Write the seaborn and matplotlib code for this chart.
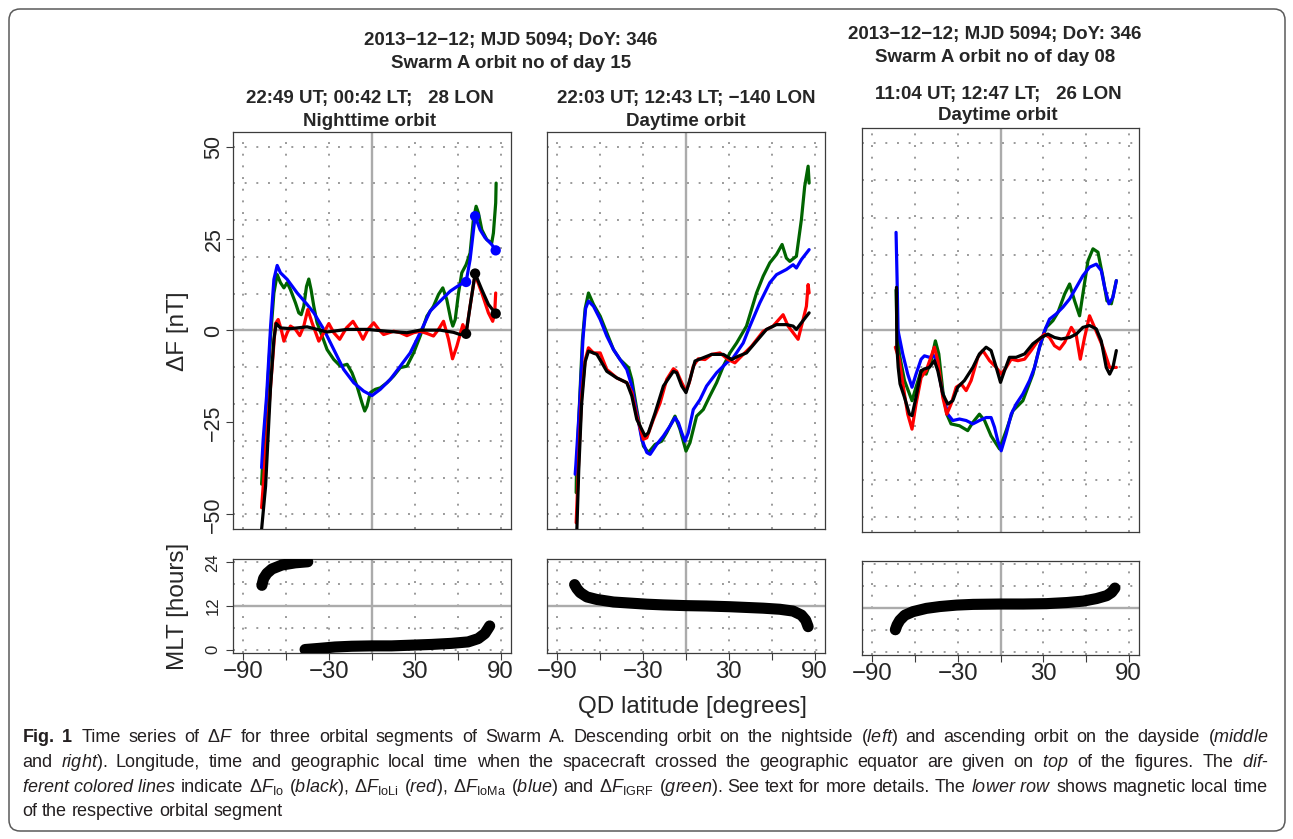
import pandas as pd
import matplotlib
matplotlib.use("Agg")
import matplotlib.pyplot as plt
import seaborn as sns
from matplotlib import font_manager
from matplotlib.patches import FancyBboxPatch
from matplotlib.transforms import IdentityTransform

# ------------------------------------------------------------------
# values: (QD latitude [deg], delta F [nT])
# ------------------------------------------------------------------
# nighttime orbit, 22:49 UT
night_igrf = [(-77.2, -41.8), (-76.1, -33.2), (-73.7, -19.7), (-70.9, -1.5), (-68.6, 10.2), (-66.3, 15.2),
              (-64.0, 13.0), (-61.6, 11.6), (-59.3, 13.0), (-57.0, 11.1), (-53.5, 7.5), (-51.2, 4.8),
              (-49.5, 4.3), (-47.7, 6.6), (-45.8, 12.0), (-44.2, 14.0), (-42.6, 11.1), (-40.7, 6.6),
              (-38.4, 2.1), (-34.9, -1.5), (-31.4, -5.2), (-26.7, -7.9), (-22.1, -9.7), (-17.4, -9.2),
              (-14.0, -11.5), (-10.5, -15.1), (-7.0, -19.7), (-5.1, -21.9), (-3.5, -20.6), (-1.2, -16.9),
              (2.3, -16.0), (5.8, -15.6), (10.5, -14.2), (15.1, -12.4), (19.8, -10.1), (24.4, -9.7),
              (29.1, -6.1), (33.7, -1.5), (38.4, 3.9), (43.0, 6.6), (46.5, 9.8), (49.5, 11.6),
              (52.3, 8.4), (55.1, 3.0), (56.5, 1.2), (58.2, 3.0), (60.5, 10.2), (62.8, 15.7),
              (65.8, 17.9), (68.6, 21.1), (70.9, 30.2), (72.8, 33.8), (74.4, 32.0), (76.8, 27.4),
              (80.3, 24.7), (83.7, 23.8), (84.9, 26.5), (86.5, 34.7), (86.8, 40.1)]
night_ioma = [(-77.2, -37.3), (-76.1, -29.6), (-73.7, -17.8), (-70.9, 1.2), (-68.6, 13.9), (-66.3, 17.7),
              (-64.0, 15.7), (-59.3, 13.9), (-52.3, 10.2), (-45.4, 7.1), (-40.7, 4.8), (-33.7, 0.3),
              (-26.7, -5.2), (-19.8, -10.6), (-12.8, -14.2), (-5.8, -16.5), (0.0, -17.7), (5.8, -16.0),
              (12.8, -13.3), (19.8, -9.7), (26.7, -6.1), (33.7, -0.6), (40.7, 5.3), (47.7, 8.0),
              (54.7, 10.7), (61.6, 12.5), (65.8, 13.2), (68.6, 19.3), (72.1, 31.1), (75.6, 27.4),
              (79.1, 25.2), (83.7, 23.4), (86.5, 21.8)]
night_ioli = [(-77.2, -48.2), (-74.4, -33.2), (-70.9, -15.1), (-67.5, 1.9), (-65.6, 3.0), (-63.5, 0.3),
              (-61.6, -2.9), (-59.3, -0.6), (-57.0, 1.2), (-53.5, 0.3), (-50.5, -1.4), (-47.7, 1.2),
              (-44.9, 5.7), (-41.9, 2.1), (-37.2, -2.9), (-33.7, -0.6), (-30.2, 1.9), (-26.7, -0.6),
              (-22.6, -2.4), (-17.9, 0.7), (-13.3, 2.5), (-9.8, 0.3), (-6.3, -2.4), (-2.8, 0.3),
              (1.2, 2.1), (4.7, 0.3), (8.1, -1.1), (15.1, -0.2), (19.8, -0.6), (24.4, -1.4),
              (29.1, -0.6), (33.7, -0.2), (38.4, -0.8), (43.0, -1.5), (46.5, 0.3), (50.0, 2.5),
              (53.5, -2.4), (56.3, -7.7), (59.3, -4.3), (63.5, 1.6), (65.8, -0.6), (68.6, 6.6),
              (72.1, 15.2), (76.8, 10.2), (81.4, 4.8), (84.4, 2.5), (85.8, 4.8), (86.5, 10.2)]
night_io = [(-77.2, -54.1), (-74.4, -42.3), (-70.9, -15.1), (-68.6, -2.4), (-67.0, 1.9), (-64.0, 0.7),
            (-57.0, 0.5), (-45.4, 1.0), (-31.4, -0.4), (-17.4, 0.3), (-3.5, 0.3), (10.5, -0.2),
            (24.4, -0.6), (33.7, 0.1), (47.7, 0.1), (57.0, -0.5), (61.6, -1.1), (65.8, -0.9),
            (68.6, 6.6), (72.1, 15.5), (76.8, 11.1), (81.4, 7.1), (86.5, 4.6)]
night_io_marks = [(65.8, -0.9), (72.1, 15.5), (86.5, 4.6)]
night_ioma_marks = [(65.8, 13.2), (72.1, 31.1), (86.5, 21.8)]

# daytime orbit, 22:03 UT
day1_igrf = [(-76.8, -44.1), (-76.6, -38.7), (-74.5, -20.0), (-72.5, -3.0), (-70.5, 6.0), (-68.2, 10.2),
             (-64.7, 7.1), (-60.0, 3.9), (-55.4, -0.6), (-50.7, -5.2), (-46.1, -7.9), (-40.2, -10.1),
             (-37.9, -13.3), (-34.4, -21.5), (-29.8, -31.4), (-26.3, -33.2), (-21.6, -31.0), (-17.0, -30.1),
             (-13.5, -27.8), (-7.7, -23.3), (-4.2, -26.9), (0.0, -32.8), (2.8, -30.5), (7.4, -23.3),
             (12.1, -21.5), (16.7, -17.8), (21.4, -14.2), (26.1, -9.7), (30.7, -6.1), (35.4, -3.4),
             (42.3, 1.2), (49.3, 10.2), (54.0, 14.8), (58.6, 18.4), (63.3, 20.7), (67.2, 23.4),
             (70.2, 19.7), (72.6, 18.8), (77.2, 20.2), (80.7, 30.2), (83.0, 39.2), (85.4, 44.7),
             (86.1, 40.1)]
day1_ioma = [(-77.5, -39.1), (-77.0, -36.4), (-74.4, -20.0), (-72.0, -2.0), (-70.2, 6.0), (-68.2, 8.0),
             (-64.7, 6.6), (-60.0, 3.0), (-55.4, -1.5), (-50.7, -5.2), (-46.1, -7.9), (-41.4, -10.6),
             (-37.9, -15.1), (-34.4, -22.4), (-30.9, -29.6), (-27.4, -33.2), (-25.1, -33.7), (-20.5, -31.0),
             (-15.8, -28.7), (-11.2, -26.0), (-7.7, -23.7), (-5.3, -25.1), (-3.0, -27.8), (-0.7, -30.1),
             (1.6, -27.8), (5.1, -21.5), (9.8, -18.8), (14.4, -15.1), (21.4, -11.5), (28.4, -8.8),
             (33.0, -7.4), (40.0, -3.4), (44.7, 1.2), (51.6, 7.5), (58.6, 13.0), (63.3, 15.2),
             (70.2, 16.6), (74.9, 17.9), (77.2, 17.0), (80.7, 19.3), (86.1, 22.0)]
day1_ioli = [(-76.8, -52.3), (-75.0, -35.0), (-73.0, -18.0), (-70.5, -8.0), (-68.2, -4.7), (-64.7, -6.1),
             (-60.0, -6.1), (-55.4, -10.6), (-48.4, -12.9), (-41.4, -14.2), (-37.9, -16.9), (-34.4, -23.3),
             (-29.8, -29.6), (-27.4, -29.2), (-22.8, -24.2), (-18.1, -19.7), (-13.5, -13.3), (-8.8, -10.4),
             (-6.5, -11.1), (-3.0, -14.2), (0.0, -16.5), (2.3, -14.2), (5.1, -9.7), (8.6, -7.7),
             (13.3, -7.9), (17.9, -6.5), (23.7, -6.1), (29.5, -7.9), (34.2, -8.8), (40.0, -6.5),
             (45.8, -4.3), (54.0, -0.2), (60.9, 1.2), (67.9, 4.3), (71.4, 1.2), (74.9, -0.6),
             (78.4, -2.4), (81.9, 3.0), (84.2, 6.6), (85.4, 12.5), (86.1, 10.2)]
day1_io = [(-76.3, -54.0), (-75.0, -38.0), (-73.0, -20.0), (-70.5, -8.5), (-68.2, -5.6), (-62.3, -6.5),
           (-55.4, -11.1), (-48.4, -12.9), (-41.4, -14.2), (-37.9, -17.8), (-34.4, -24.2), (-28.6, -28.7),
           (-26.3, -27.8), (-21.6, -22.4), (-15.8, -15.1), (-8.8, -11.1), (-6.5, -11.5), (-3.0, -15.1),
           (0.0, -16.9), (2.8, -13.3), (6.3, -8.3), (12.1, -7.4), (17.9, -6.5), (26.1, -6.5),
           (31.9, -7.9), (36.5, -7.0), (42.3, -6.1), (49.3, -2.9), (56.3, 0.3), (63.3, 1.6),
           (70.2, 1.6), (74.9, 1.2), (77.2, 0.3), (80.7, 2.1), (86.1, 4.8)]

# daytime orbit, 11:04 UT
day2_igrf = [(-73.3, 10.7), (-72.8, 2.0), (-71.0, -6.4), (-67.4, -13.5), (-62.1, -18.9), (-59.3, -15.3),
             (-55.7, -10.9), (-52.2, -11.8), (-48.7, -8.2), (-45.7, -2.9), (-43.3, -6.4), (-40.5, -16.2),
             (-37.7, -22.5), (-34.7, -25.1), (-28.8, -25.6), (-23.0, -26.9), (-19.4, -24.7), (-14.8, -22.5),
             (-11.2, -24.2), (-6.6, -28.3), (-0.7, -31.8), (4.0, -26.9), (8.7, -21.6), (15.7, -18.9),
             (22.7, -11.8), (27.4, -4.6), (32.1, 0.7), (36.8, 2.5), (40.3, 4.7), (45.0, 9.6),
             (48.5, 12.3), (52.0, 7.8), (55.5, 3.8), (57.8, 9.6), (61.4, 18.5), (64.9, 21.7),
             (68.4, 20.8), (71.9, 14.1), (74.7, 7.8), (77.8, 7.0), (81.3, 13.2)]
day2_ioma = [(-73.3, 26.1), (-72.6, 14.0), (-71.9, 0.0), (-71.4, -1.1), (-68.6, -6.4), (-65.1, -11.8),
             (-62.1, -15.3), (-59.3, -11.8), (-55.7, -7.8), (-53.4, -6.9), (-49.9, -7.3), (-46.4, -6.9),
             (-44.0, -10.0), (-40.5, -17.1), (-37.0, -22.5), (-33.5, -24.2), (-28.8, -23.8), (-24.1, -24.2),
             (-19.4, -25.1), (-14.8, -24.2), (-10.1, -23.4), (-6.6, -23.4), (-4.2, -26.0), (-1.9, -29.6),
             (0.5, -32.3), (4.0, -27.8), (7.5, -22.5), (11.0, -19.8), (15.7, -17.1), (20.4, -13.5),
             (23.9, -10.0), (27.4, -4.6), (30.9, -0.2), (34.4, 2.9), (39.1, 4.3), (43.8, 6.1),
             (48.5, 8.3), (53.2, 11.4), (57.8, 14.5), (62.5, 16.8), (67.2, 17.6), (70.7, 15.9),
             (73.1, 11.4), (76.1, 7.0), (78.9, 8.7), (81.3, 13.2)]
day2_ioli = [(-73.8, -4.6), (-71.0, -8.0), (-67.4, -17.1), (-65.1, -22.5), (-62.1, -26.5), (-59.3, -19.8),
             (-55.7, -12.7), (-52.2, -10.9), (-46.4, -4.6), (-44.0, -8.2), (-40.5, -18.0), (-37.7, -22.5),
             (-34.7, -19.8), (-31.1, -15.3), (-27.6, -14.4), (-24.1, -16.2), (-20.6, -13.5), (-15.9, -7.3),
             (-12.4, -5.5), (-7.7, -8.2), (-3.0, -10.0), (0.5, -11.8), (4.0, -10.0), (7.5, -7.8),
             (12.2, -8.2), (16.9, -7.8), (21.5, -5.5), (26.2, -2.9), (30.9, -1.1), (34.4, -2.0),
             (37.9, -4.2), (41.5, -5.1), (45.0, -3.3), (49.7, 0.7), (53.2, -1.5), (56.0, -7.8),
             (59.0, -2.0), (62.5, 3.8), (66.0, 0.7), (71.9, -4.6), (76.6, -10.0), (81.3, -10.0)]
day2_io = [(-73.0, 11.4), (-72.8, -4.0), (-71.8, -10.0), (-70.5, -14.4), (-67.4, -18.0), (-63.9, -22.5),
           (-62.1, -22.9), (-59.3, -18.0), (-55.7, -10.9), (-53.4, -10.4), (-49.9, -10.0), (-46.4, -8.2),
           (-44.0, -10.9), (-40.5, -17.1), (-37.0, -19.8), (-33.5, -18.9), (-30.0, -15.3), (-25.3, -13.5),
           (-19.4, -10.0), (-14.8, -6.4), (-10.1, -4.6), (-6.6, -5.5), (-3.0, -10.0), (0.0, -14.0),
           (2.8, -10.9), (6.3, -7.3), (11.0, -7.3), (16.9, -6.4), (22.7, -3.7), (28.6, -2.0),
           (33.3, -1.1), (37.9, -2.0), (42.6, -2.4), (48.5, -2.0), (53.2, -1.1), (57.8, 0.7),
           (62.5, 1.2), (67.2, 0.3), (70.7, -2.9), (74.2, -10.0), (76.6, -11.8), (78.9, -10.0),
           (81.3, -5.5)]

# magnetic local time along each segment: (QD latitude, MLT hours); night wraps 24 -> 0
night_mlt_a = [(-77.0, 17.7), (-75.8, 19.6), (-73.5, 21.0), (-70.0, 22.2), (-63.0, 23.3), (-53.7, 23.9),
               (-44.9, 24.2)]
night_mlt_b = [(-46.8, 0.0), (-37.4, 0.3), (-25.8, 0.7), (-14.2, 0.9), (-0.2, 1.0), (13.7, 1.0),
               (27.7, 1.2), (41.6, 1.4), (55.6, 1.7), (67.2, 2.1), (74.2, 3.0), (78.9, 4.4),
               (81.2, 5.8), (82.3, 6.5)]
day1_mlt = [(-77.9, 17.9), (-76.3, 16.8), (-74.0, 15.7), (-69.3, 14.5), (-62.3, 13.8), (-50.7, 13.1),
            (-39.1, 12.8), (-27.4, 12.5), (-15.8, 12.3), (0.0, 12.1), (14.4, 12.0), (30.7, 11.8),
            (42.3, 11.6), (54.0, 11.4), (65.6, 11.1), (74.9, 10.6), (80.7, 9.5), (83.7, 8.1), (85.4, 6.3)]
day2_mlt = [(-73.8, 6.0), (-72.6, 7.3), (-70.7, 8.6), (-67.2, 10.0), (-61.4, 11.0), (-52.0, 11.9),
            (-42.6, 12.4), (-30.9, 12.8), (-19.2, 13.0), (0.0, 13.1), (15.9, 13.1), (32.3, 13.2),
            (46.4, 13.5), (58.1, 13.9), (67.4, 14.6), (74.5, 15.4), (78.0, 16.3), (80.3, 17.5)]

headers = [("2013\u221212\u221212; MJD 5094; DoY: 346", "Swarm A orbit no of day 15"),
           ("2013\u221212\u221212; MJD 5094; DoY: 346", "Swarm A orbit no of day 08")]
panel_titles = [("22:49 UT; 00:42 LT;   28 LON", "Nighttime orbit"),
                ("22:03 UT; 12:43 LT; \u2212140 LON", "Daytime orbit"),
                ("11:04 UT; 12:47 LT;   26 LON", "Daytime orbit")]
dF_ticks = [-50, -25, 0, 25, 50]
mlt_ticks = [0, 12, 24]
lat_ticks = [-90, -60, -30, 0, 30, 60, 90]
lat_labels = ["\u221290", "", "\u221230", "", "30", "", "90"]

MODELS = ["IGRF", "IoMa", "IoLi", "Io"]
COLORS = {"IGRF": "#006400", "IoMa": "#0000ff", "IoLi": "#ff0000", "Io": "#000000"}

orbits = [
    {"IGRF": night_igrf, "IoMa": night_ioma, "IoLi": night_ioli, "Io": night_io},
    {"IGRF": day1_igrf, "IoMa": day1_ioma, "IoLi": day1_ioli, "Io": day1_io},
    {"IGRF": day2_igrf, "IoMa": day2_ioma, "IoLi": day2_ioli, "Io": day2_io},
]
mlt_segments = [[night_mlt_a, night_mlt_b], [day1_mlt], [day2_mlt]]

caption = [
    r"$\mathbf{Fig.\ 1}$  Time series of $\Delta\mathit{F}$ for three orbital segments of Swarm A. "
    r"Descending orbit on the nightside ($\mathit{left}$) and ascending orbit on the dayside ($\mathit{middle}$",
    r"and $\mathit{right}$). Longitude, time and geographic local time when the spacecraft crossed the "
    r"geographic equator are given on $\mathit{top}$ of the figures. The $\mathit{dif}$-",
    r"$\mathit{ferent\ colored\ lines}$ indicate $\Delta\mathit{F}_{\mathrm{Io}}$ ($\mathit{black}$), "
    r"$\Delta\mathit{F}_{\mathrm{IoLi}}$ ($\mathit{red}$), $\Delta\mathit{F}_{\mathrm{IoMa}}$ ($\mathit{blue}$) "
    r"and $\Delta\mathit{F}_{\mathrm{IGRF}}$ ($\mathit{green}$). See text for more details. "
    r"The $\mathit{lower\ row}$ shows magnetic local time",
    "of the respective orbital segment",
]

# ------------------------------------------------------------------
sns.set_theme(style="white")
installed = {f.name for f in font_manager.fontManager.ttflist}
FONT = "Liberation Sans" if "Liberation Sans" in installed else "DejaVu Sans"
plt.rcParams["font.family"] = [FONT, "DejaVu Sans"]
plt.rcParams["mathtext.fontset"] = "custom"
plt.rcParams["mathtext.rm"] = FONT
plt.rcParams["mathtext.it"] = FONT + ":italic"
plt.rcParams["mathtext.bf"] = FONT + ":bold"

W, H = 1293, 839
fig = plt.figure(figsize=(W / 100, H / 100), dpi=100)


def px_box(x0, y0, x1, y1):
    return [x0 / W, 1 - y1 / H, (x1 - x0) / W, (y1 - y0) / H]


def fx(x):
    return x / W


def fy(y):
    return 1 - y / H


GRID_C = "#9a9a9a"
SPINE_C = "#3c3c3c"


def decorate(ax, hlines, hzero):
    for gx in (-90, -60, -30, 30, 60, 90):
        ax.axvline(gx, color=GRID_C, lw=1.4, ls=(0, (1, 5)), zorder=0)
    for gy in hlines:
        ax.axhline(gy, color=GRID_C, lw=1.4, ls=(0, (1, 5)), zorder=0)
    ax.axvline(0, color="#ababab", lw=1.7, zorder=0.5)
    ax.axhline(hzero, color="#ababab", lw=1.7, zorder=0.5)
    ax.set_xlim(-97.2, 97.2)
    for sp in ax.spines.values():
        sp.set_color(SPINE_C)
        sp.set_linewidth(0.9)
    ax.set_xlabel("")
    ax.set_ylabel("")


top_boxes = [(233, 132, 511, 529), (547, 132, 825, 529), (862, 128, 1139, 532)]
bot_boxes = [(233, 559, 511, 653), (547, 559, 825, 653), (862, 561, 1139, 655)]

for i in range(3):
    # delta F panel
    ax = fig.add_axes(px_box(*top_boxes[i]))
    for m in MODELS:
        df = pd.DataFrame(orbits[i][m], columns=["lat", "dF"])
        sns.lineplot(data=df, x="lat", y="dF", color=COLORS[m], lw=2.3, sort=False,
                     estimator=None, ax=ax, zorder=3)
    if i == 0:
        for marks, m in ((night_ioma_marks, "IoMa"), (night_io_marks, "Io")):
            mk = pd.DataFrame(marks, columns=["lat", "dF"])
            sns.scatterplot(data=mk, x="lat", y="dF", color=COLORS[m], s=55,
                            edgecolor="none", ax=ax, zorder=4)
    decorate(ax, [-50, -40, -30, -20, -10, 10, 20, 30, 40, 50], 0)
    ax.set_ylim(-54, 54)
    ax.set_xticks([])
    if i == 0:
        ax.set_yticks(dF_ticks)
        ax.set_yticklabels([str(t).replace("-", "\u2212") for t in dF_ticks],
                           rotation=90, va="center")
        ax.tick_params(axis="y", left=True, length=5, width=0.8, color=SPINE_C,
                       labelsize=15.5, pad=1.2)
    else:
        ax.set_yticks([])

    # MLT panel
    bx = fig.add_axes(px_box(*bot_boxes[i]))
    for seg in mlt_segments[i]:
        sd = pd.DataFrame(seg, columns=["lat", "mlt"])
        sns.lineplot(data=sd, x="lat", y="mlt", color="black", lw=8.0, sort=False,
                     estimator=None, ax=bx, zorder=3, solid_capstyle="round")
    decorate(bx, [0, 6, 18, 24], 12)
    bx.set_ylim(-0.96, 24.96)
    bx.set_xticks(lat_ticks)
    bx.set_xticklabels(lat_labels)
    bx.tick_params(axis="x", bottom=True, length=5, width=0.8, color=SPINE_C,
                   labelsize=17.3, pad=0.5)
    if i == 0:
        bx.set_yticks(mlt_ticks)
        bx.set_yticklabels([str(t) for t in mlt_ticks], rotation=90, va="center")
        bx.tick_params(axis="y", left=True, length=5, width=0.8, color=SPINE_C,
                       labelsize=12, pad=4)
    else:
        bx.set_yticks([])

# titles
TS = 13.5
for (l1, l2), x, (y1, y2) in zip(headers, (511, 995), ((41, 63), (34, 57))):
    fig.text(fx(x), fy(y1), l1, ha="center", va="center", fontsize=TS, fontweight="bold")
    fig.text(fx(x), fy(y2), l2, ha="center", va="center", fontsize=TS, fontweight="bold")
for (l1, l2), x, (y1, y2) in zip(panel_titles, (370, 686, 998), ((99, 121), (99, 121), (94, 116))):
    fig.text(fx(x), fy(y1), l1, ha="center", va="center", fontsize=TS, fontweight="bold")
    fig.text(fx(x), fy(y2), l2, ha="center", va="center", fontsize=TS, fontweight="bold")

# axis labels
fig.text(fx(178), fy(331), "\u0394F [nT]", rotation=90, ha="center", va="center", fontsize=17.5)
fig.text(fx(178), fy(606), "MLT [hours]", rotation=90, ha="center", va="center", fontsize=17.5)
fig.text(fx(693), fy(707), "QD latitude [degrees]", ha="center", va="center", fontsize=17.5)


# caption, justified between x = 22 and x = 1268 like the journal layout
def split_words(s):
    words, cur, in_math = [], "", False
    for ch in s:
        if ch == "$":
            in_math = not in_math
        if ch == " " and not in_math:
            if cur:
                words.append(cur)
            cur = ""
        else:
            cur += ch
    if cur:
        words.append(cur)
    return words


renderer = fig.canvas.get_renderer()
CAP_L, CAP_R = 22, 1268
probe = [fig.text(0, 0, s, fontsize=12) for s in caption[:3]]
natural = max(t.get_window_extent(renderer).width for t in probe)
for t in probe:
    t.remove()
cap_size = 12 * (CAP_R - CAP_L) / natural * 0.985

for k, (line, y) in enumerate(zip(caption, (742, 767, 792, 816))):
    words = split_words(line)
    arts = [fig.text(0, fy(y), w, fontsize=cap_size, va="baseline", ha="left", color="#231f20")
            for w in words]
    widths = [a.get_window_extent(renderer).width for a in arts]
    if k < 3:
        gap = (CAP_R - CAP_L - sum(widths)) / (len(words) - 1)
    else:
        gap = cap_size * 100 / 72 * 0.278
    x = CAP_L
    for a, w in zip(arts, widths):
        a.set_x(fx(x))
        x += w + gap

# rounded frame around figure and caption
fig.add_artist(FancyBboxPatch((9, 8), 1276, 822, boxstyle="round,pad=0,rounding_size=11",
                              transform=IdentityTransform(), facecolor="none",
                              edgecolor="#5a5a5a", lw=1.1))

fig.savefig("out.png", dpi=100)
